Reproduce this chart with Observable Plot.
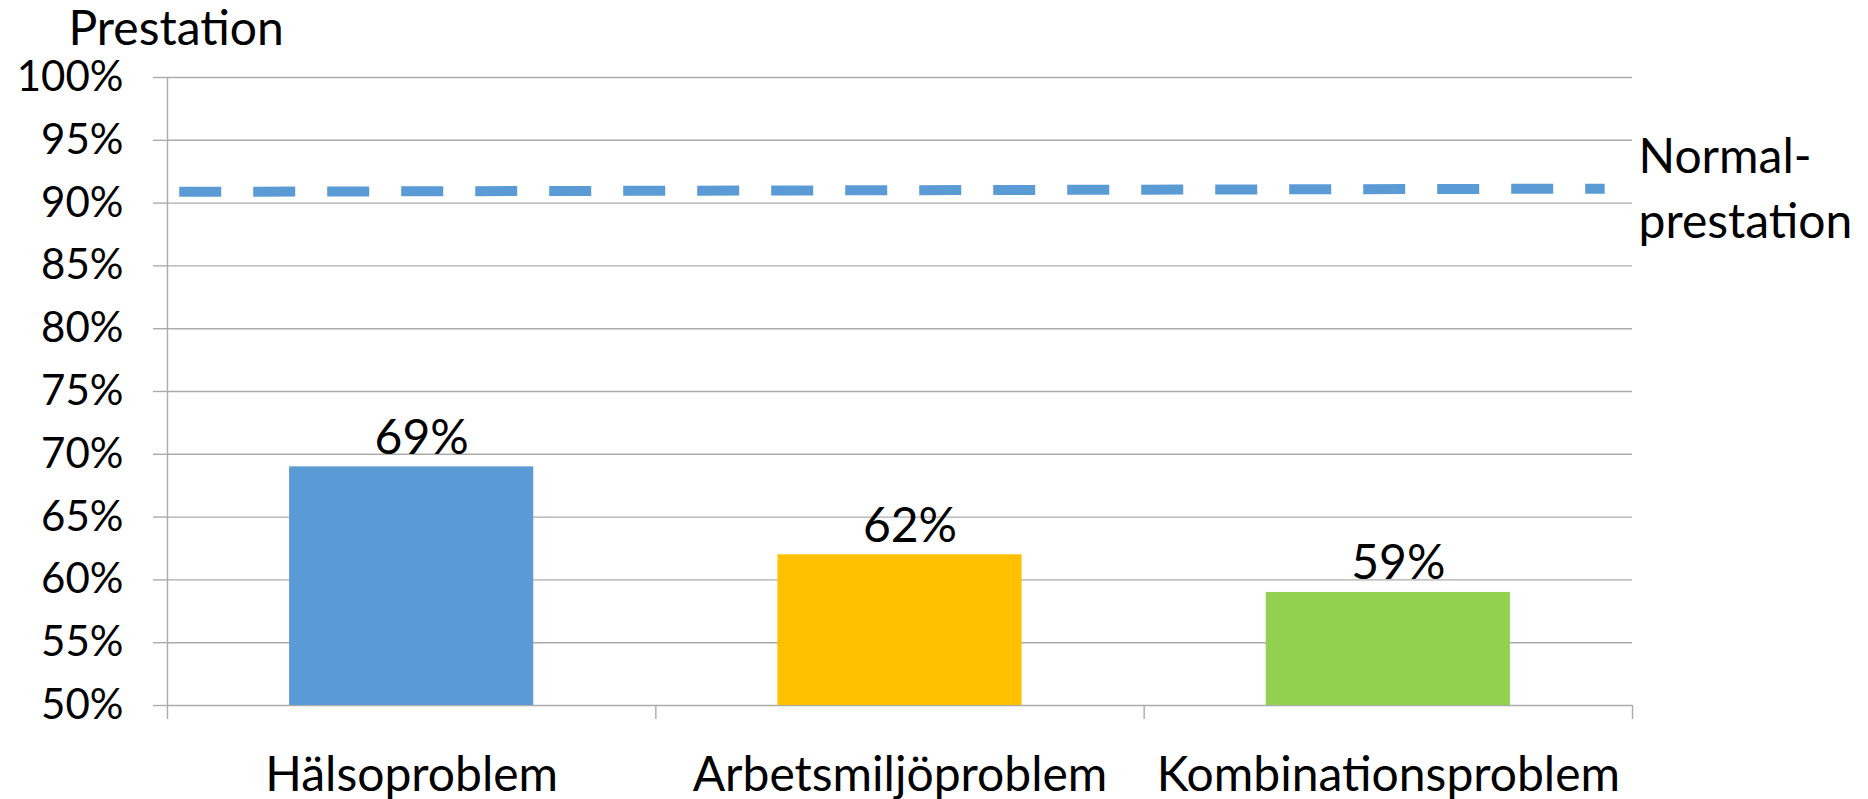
<!DOCTYPE html>
<html>
<head>
<meta charset="utf-8">
<script src="https://cdn.jsdelivr.net/npm/d3@7"></script>
<script src="https://cdn.jsdelivr.net/npm/@observablehq/plot@0.6"></script>
<style>
  html, body { margin: 0; padding: 0; background: #fff; }
  #chart svg { display: block; }
</style>
</head>
<body>
<div id="chart"></div>
<script>
// ---- data ----
const categories = ["Hälsoproblem", "Arbetsmiljöproblem", "Kombinationsproblem"];
const values = [69, 62, 59];
const barColors = ["#5B9BD5", "#FFC000", "#92D050"];
const yTicks = [50, 55, 60, 65, 70, 75, 80, 85, 90, 95, 100];
const yTitle = "Prestation";
const normalLabel = "Normal-\nprestation";
// dashed "normal performance" line: position along category axis (0..3) and value
const normalPos = [0.024, 2.943];
const normalValues = [90.9, 91.15];

// ---- derived tables ----
const bars = categories.map((c, i) => ({cat: c, idx: i, value: values[i], color: barColors[i]}));
const normalLine = normalPos.map((p, i) => ({pos: p, value: normalValues[i]}));
const bounds = d3.range(categories.length + 1);
const yMin = yTicks[0], yMax = yTicks[yTicks.length - 1];

const gridColor = "#ababab";
const font = "Lato";

const chart = Plot.plot({
  width: 1868,
  height: 799,
  marginLeft: 167,
  marginRight: 236,
  marginTop: 77,
  marginBottom: 94,
  style: {fontFamily: font, fontSize: "48px", color: "#000", background: "#fff", overflow: "visible"},
  x: {type: "linear", domain: [0, categories.length]},
  y: {domain: [yMin, yMax]},
  marks: [
    Plot.ruleY(yTicks, {stroke: gridColor, strokeWidth: 1.4}),
    Plot.ruleX([0], {stroke: gridColor, strokeWidth: 1.4}),
    Plot.axisY({ticks: yTicks, tickSize: 14, tickPadding: 30, tickFormat: d => d + "%",
                label: null, stroke: gridColor, strokeWidth: 1.4, fontSize: 42}),
    Plot.axisX({ticks: bounds, tickSize: 14, tickFormat: () => "", label: null,
                stroke: gridColor, strokeWidth: 1.4}),
    Plot.rectY(bars, {x1: d => d.idx + 0.25, x2: d => d.idx + 0.75, y1: yMin, y2: "value", fill: "color"}),
    Plot.line(normalLine, {x: "pos", y: "value", stroke: "#5B9BD5", strokeWidth: 10,
                           strokeDasharray: "42,32", strokeLinecap: "butt"}),
    Plot.text(bars, {x: d => d.idx + 0.5, y: "value", text: d => d.value + "%",
                     lineAnchor: "bottom", dy: -13, dx: 10, fill: "#000", fontSize: 48}),
    Plot.text(bars, {x: d => d.idx + 0.5, y: yMin, text: "cat",
                     lineAnchor: "bottom", dy: 85, fill: "#000", fontSize: 48}),
    Plot.text([normalLabel], {x: categories.length, y: [normalValues[1]], text: d => d,
                     textAnchor: "start", lineAnchor: "middle", dx: 6, dy: -4,
                     lineHeight: 65 / 48, fill: "#000", fontSize: 48}),
    Plot.text([yTitle], {frameAnchor: "top-left", dx: -99, dy: -33, textAnchor: "start",
                     lineAnchor: "bottom", fill: "#000", fontSize: 48})
  ]
});
document.getElementById("chart").appendChild(chart);
</script>
</body>
</html>
